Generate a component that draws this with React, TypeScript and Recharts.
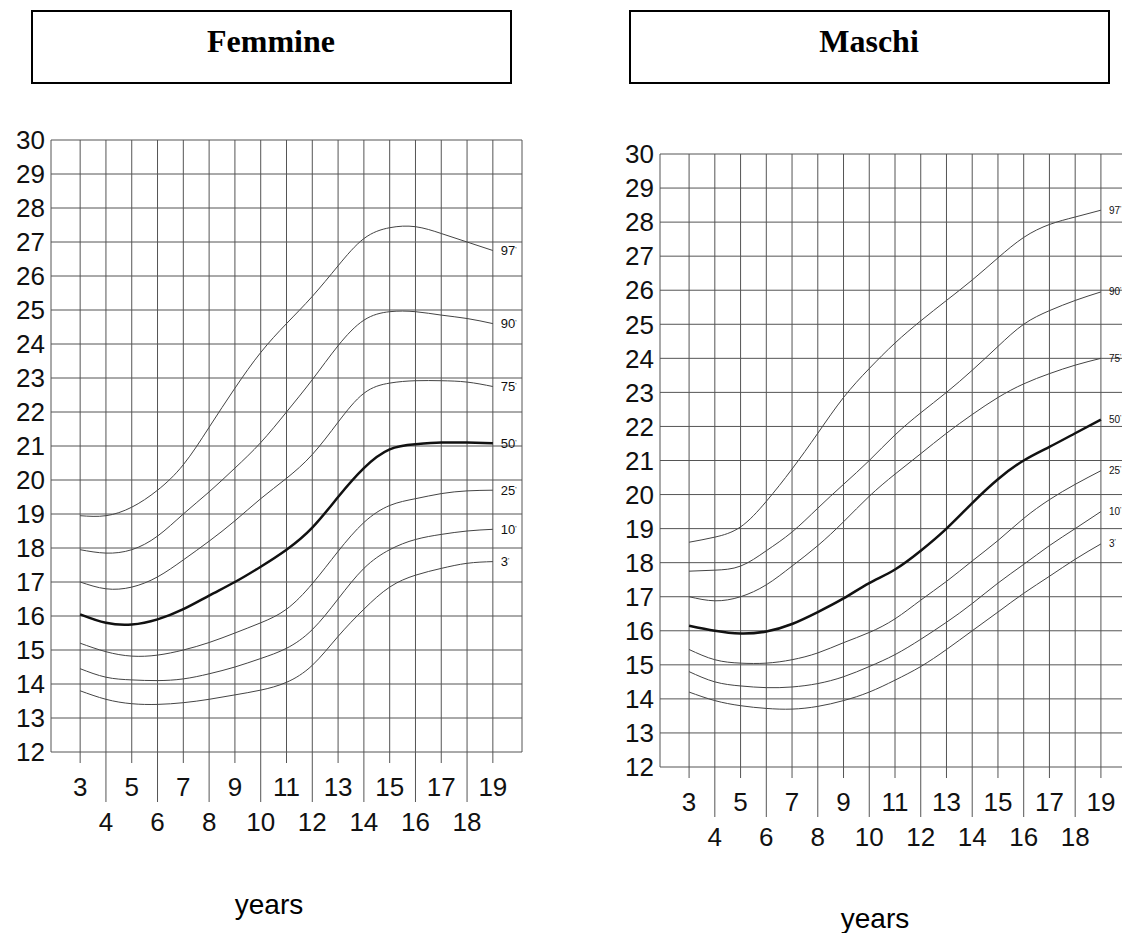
import { CartesianGrid, Line, LineChart, XAxis, YAxis } from 'recharts';

const ages = [3, 4, 5, 6, 7, 8, 9, 10, 11, 12, 13, 14, 15, 16, 17, 18, 19];
const yTicks = [12, 13, 14, 15, 16, 17, 18, 19, 20, 21, 22, 23, 24, 25, 26, 27, 28, 29, 30];
const percentiles = ['97', '90', '75', '50', '25', '10', '3'];

// Femmine
const f97 = [18.95, 18.95, 19.2, 19.7, 20.45, 21.55, 22.7, 23.75, 24.6, 25.4, 26.3, 27.1, 27.42, 27.45, 27.25, 27.0, 26.75];
const f90 = [17.95, 17.85, 17.95, 18.35, 19.0, 19.65, 20.35, 21.1, 22.0, 22.95, 23.95, 24.7, 24.95, 24.95, 24.85, 24.75, 24.6];
const f75 = [17.0, 16.8, 16.85, 17.15, 17.65, 18.2, 18.8, 19.45, 20.05, 20.75, 21.7, 22.55, 22.85, 22.92, 22.92, 22.88, 22.75];
const f50 = [16.05, 15.8, 15.75, 15.9, 16.2, 16.6, 17.0, 17.45, 17.95, 18.6, 19.5, 20.35, 20.9, 21.05, 21.1, 21.1, 21.08];
const f25 = [15.2, 14.95, 14.82, 14.85, 15.0, 15.22, 15.5, 15.8, 16.2, 16.95, 17.9, 18.75, 19.25, 19.45, 19.6, 19.68, 19.7];
const f10 = [14.45, 14.2, 14.12, 14.1, 14.15, 14.3, 14.5, 14.75, 15.05, 15.6, 16.5, 17.4, 17.95, 18.25, 18.4, 18.5, 18.55];
const f3 = [13.8, 13.55, 13.42, 13.4, 13.45, 13.55, 13.68, 13.82, 14.05, 14.55, 15.4, 16.2, 16.85, 17.2, 17.4, 17.55, 17.6];

// Maschi
const m97 = [18.6, 18.75, 19.05, 19.8, 20.75, 21.8, 22.85, 23.7, 24.45, 25.1, 25.7, 26.3, 26.95, 27.55, 27.93, 28.15, 28.35];
const m90 = [17.75, 17.78, 17.9, 18.35, 18.9, 19.6, 20.3, 21.0, 21.75, 22.4, 23.0, 23.65, 24.35, 25.0, 25.4, 25.7, 25.95];
const m75 = [17.0, 16.88, 17.0, 17.35, 17.9, 18.5, 19.2, 19.95, 20.6, 21.2, 21.8, 22.35, 22.85, 23.25, 23.55, 23.8, 24.0];
const m50 = [16.15, 16.0, 15.92, 15.98, 16.2, 16.55, 16.95, 17.4, 17.8, 18.35, 19.0, 19.75, 20.45, 21.0, 21.4, 21.8, 22.2];
const m25 = [15.45, 15.15, 15.05, 15.05, 15.15, 15.35, 15.65, 15.95, 16.35, 16.9, 17.45, 18.05, 18.65, 19.3, 19.85, 20.3, 20.7];
const m10 = [14.8, 14.5, 14.38, 14.33, 14.35, 14.45, 14.65, 14.95, 15.3, 15.75, 16.25, 16.8, 17.4, 17.95, 18.5, 19.0, 19.5];
const m3 = [14.2, 13.95, 13.8, 13.72, 13.7, 13.78, 13.95, 14.2, 14.55, 14.95, 15.45, 16.0, 16.55, 17.1, 17.6, 18.1, 18.55];

const X_MIN = 1.87;
const X_MAX = 20.13;
const xTicks = [X_MIN, ...ages, X_MAX];

const sans = '"Liberation Sans", Arial, Helvetica, sans-serif';
const serif = '"Liberation Serif", "Times New Roman", serif';

function buildRows(series: number[][]) {
  return ages.map((age, i) => {
    const row: Record<string, number> = { age };
    percentiles.forEach((p, k) => {
      row['p' + p] = series[k][i];
    });
    return row;
  });
}

const femmineRows = buildRows([f97, f90, f75, f50, f25, f10, f3]);
const maschiRows = buildRows([m97, m90, m75, m50, m25, m10, m3]);

function YearTick({ x, y, payload }: any) {
  const v = payload.value;
  if (!Number.isInteger(v)) return <g />;
  const odd = v % 2 === 1;
  return (
    <g>
      <line x1={x} x2={x} y1={y} y2={y + (odd ? 11 : 50)} stroke="#555" strokeWidth={1} />
      <text x={x} y={y + (odd ? 44 : 79)} textAnchor="middle" fontSize={26} fill="#111" fontFamily={sans}>
        {v}
      </text>
    </g>
  );
}

// percentile name drawn just right of the last point of each curve
const endLabel = (name: string, size: number) => (props: any) => {
  if (props.index !== ages.length - 1) return <g key={name + props.index} />;
  return (
    <text key={name} x={props.x + 8} y={props.y} dy="0.35em" fontSize={size} fill="#111" fontFamily={sans}>
      {name}
      <tspan dy="-0.45em" fontSize={7}>'</tspan>
    </text>
  );
};

function GrowthChart({ rows, yAxisWidth, marginRight, marginBottom, labelSize }: any) {
  return (
    <LineChart width={560} height={760} data={rows} margin={{ top: 40, right: marginRight, left: 0, bottom: marginBottom }}>
      <CartesianGrid stroke="#555" strokeWidth={1} />
      <XAxis
        dataKey="age"
        type="number"
        domain={[X_MIN, X_MAX]}
        ticks={xTicks}
        interval={0}
        axisLine={false}
        tickLine={false}
        tickSize={0}
        tickMargin={0}
        height={90}
        tick={<YearTick />}
        allowDataOverflow
      />
      <YAxis
        type="number"
        domain={[12, 30]}
        ticks={yTicks}
        interval={0}
        width={yAxisWidth}
        axisLine={false}
        tickLine={false}
        tickSize={0}
        tickMargin={6}
        tick={{ fontSize: 26, fill: '#111', fontFamily: sans }}
        allowDataOverflow
      />
      {percentiles.map((p) => (
        <Line
          key={p}
          dataKey={'p' + p}
          type="natural"
          stroke={p === '50' ? '#111' : '#444'}
          strokeWidth={p === '50' ? 2.5 : 1}
          dot={false}
          activeDot={false}
          label={endLabel(p, labelSize)}
          isAnimationActive={false}
        />
      ))}
    </LineChart>
  );
}

export default function App() {
  return (
    <div style={{ position: 'absolute', left: 0, top: 0, width: 1122, height: 933, overflow: 'hidden', background: '#fff' }}>
      <svg width={1122} height={933} style={{ position: 'absolute', left: 0, top: 0 }}>
        <rect x={32} y={11} width={479} height={72} fill="none" stroke="#000" strokeWidth={2} />
        <rect x={630} y={11} width={479} height={72} fill="none" stroke="#000" strokeWidth={2} />
        <text x={271} y={52} textAnchor="middle" fontSize={32} fontWeight="bold" fontFamily={serif}>Femmine</text>
        <text x={869} y={52} textAnchor="middle" fontSize={32} fontWeight="bold" fontFamily={serif}>Maschi</text>
        <text x={269} y={914} textAnchor="middle" fontSize={28} fontFamily={sans}>years</text>
        <text x={875} y={928} textAnchor="middle" fontSize={28} fontFamily={sans}>years</text>
      </svg>
      <div style={{ position: 'absolute', left: 0, top: 100 }}>
        <GrowthChart rows={femmineRows} yAxisWidth={51} marginRight={38} marginBottom={18} labelSize={13} />
      </div>
      <div style={{ position: 'absolute', left: 600, top: 114 }}>
        <GrowthChart rows={maschiRows} yAxisWidth={60} marginRight={30} marginBottom={17} labelSize={10} />
      </div>
    </div>
  );
}
